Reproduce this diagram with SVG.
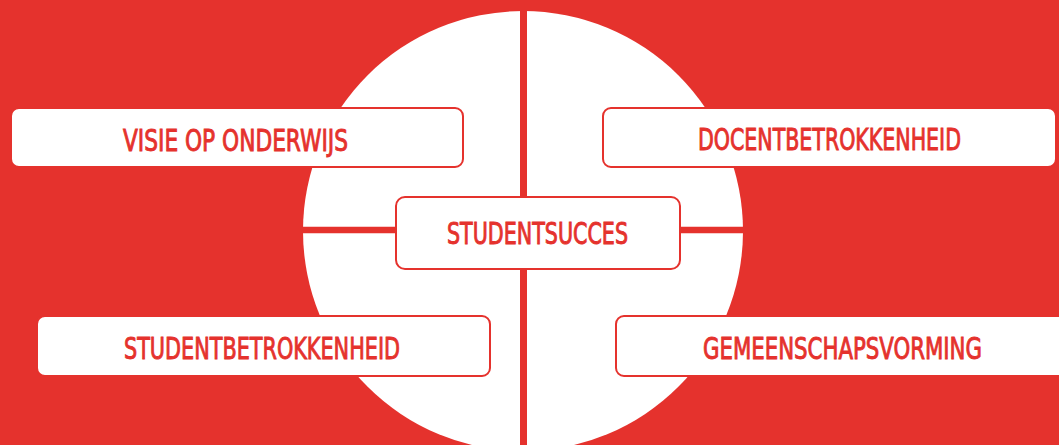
<svg xmlns="http://www.w3.org/2000/svg" width="1059" height="445" viewBox="0 0 1059 445">
  <style>
    .box { fill: #ffffff; stroke: #E5322D; stroke-width: 2; }
    .lbl { fill: #E5322D; stroke: #E5322D; stroke-width: 0.9; font-family: "DejaVu Sans Condensed", "Liberation Sans Narrow", "Liberation Sans", sans-serif; font-stretch: condensed; font-size: 30px; font-weight: normal; text-anchor: middle; }
    .line { stroke: #E5322D; fill: none; }
  </style>
  <rect x="0" y="0" width="1059" height="445" fill="#E5322D"/>
  <circle cx="523" cy="231" r="220" fill="#ffffff"/>
  <g id="connectors">
    <line class="line" x1="523.5" y1="0" x2="523.5" y2="445" stroke-width="7"/>
    <line class="line" x1="300" y1="230" x2="746" y2="230" stroke-width="6.5"/>
  </g>
  <g id="node-visie">
    <rect class="box" x="11" y="108" width="452" height="59" rx="8"/>
    <text class="lbl" x="235.5" y="151" textLength="225" lengthAdjust="spacingAndGlyphs">VISIE OP ONDERWIJS</text>
  </g>
  <g id="node-docent">
    <rect class="box" x="603" y="108" width="453" height="59" rx="8"/>
    <text class="lbl" x="829.5" y="150" textLength="263" lengthAdjust="spacingAndGlyphs">DOCENTBETROKKENHEID</text>
  </g>
  <g id="node-studentsucces">
    <rect class="box" x="396" y="197" width="284" height="72" rx="9"/>
    <text class="lbl" x="537.5" y="244" textLength="181" lengthAdjust="spacingAndGlyphs">STUDENTSUCCES</text>
  </g>
  <g id="node-studentbetrokkenheid">
    <rect class="box" x="37" y="316" width="453" height="60" rx="8"/>
    <text class="lbl" x="262" y="359" textLength="276" lengthAdjust="spacingAndGlyphs">STUDENTBETROKKENHEID</text>
  </g>
  <g id="node-gemeenschapsvorming">
    <rect class="box" x="616" y="316" width="450" height="60" rx="8"/>
    <text class="lbl" x="842.5" y="359" textLength="279" lengthAdjust="spacingAndGlyphs">GEMEENSCHAPSVORMING</text>
  </g>
</svg>
